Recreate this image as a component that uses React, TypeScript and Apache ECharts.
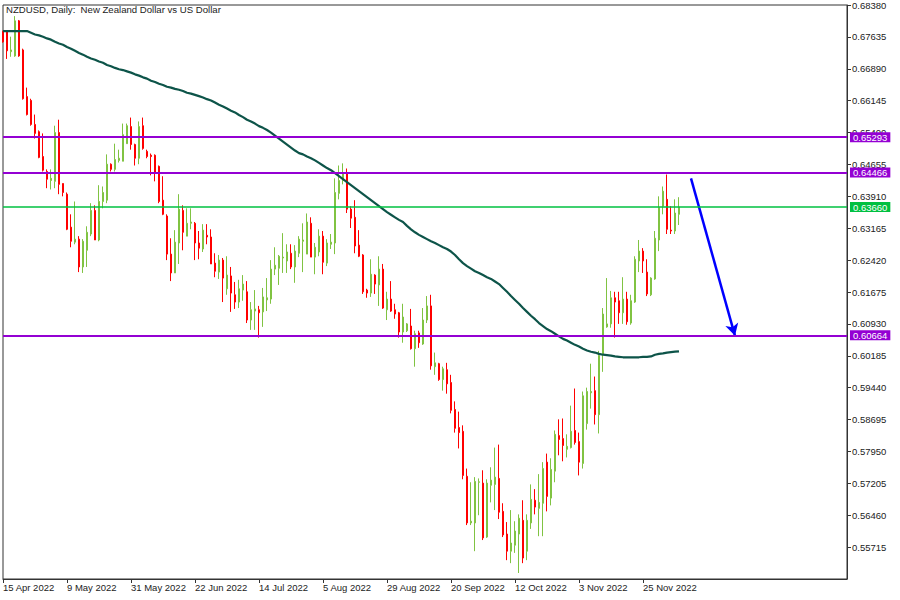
import React, { useEffect, useRef } from "react";
import * as echarts from "echarts";

// ---- data ----
const tickLabels = ["15 Apr 2022", "9 May 2022", "31 May 2022", "22 Jun 2022", "14 Jul 2022", "5 Aug 2022", "29 Aug 2022", "20 Sep 2022", "12 Oct 2022", "3 Nov 2022", "25 Nov 2022"];

const opens = [
  0.6776,0.6775,0.6729,0.6719,0.6801,0.6733,0.6624,0.6615,0.6559,0.6542,
  0.6484,0.6449,0.6428,0.6426,0.6540,0.6421,0.6396,0.6319,0.6284,0.6291,
  0.6226,0.6265,0.6303,0.6358,0.6289,0.6379,0.6382,0.6466,0.6454,0.6475,
  0.6473,0.6514,0.6554,0.6512,0.6480,0.6556,0.6496,0.6487,0.6487,0.6461,
  0.6382,0.6345,0.6256,0.6212,0.6282,0.6358,0.6298,0.6328,0.6328,0.6282,
  0.6268,0.6300,0.6296,0.6235,0.6214,0.6242,0.6175,0.6205,0.6161,0.6144,
  0.6172,0.6168,0.6102,0.6123,0.6126,0.6121,0.6149,0.6151,0.6221,0.6223,
  0.6247,0.6240,0.6258,0.6226,0.6258,0.6286,0.6256,0.6328,0.6249,0.6261,
  0.6298,0.6235,0.6279,0.6282,0.6398,0.6428,0.6445,0.6361,0.6342,0.6277,
  0.6254,0.6172,0.6165,0.6207,0.6184,0.6221,0.6126,0.6151,0.6126,0.6119,
  0.6074,0.6077,0.6088,0.6035,0.6072,0.6046,0.6102,0.6135,0.5993,0.6000,
  0.5963,0.5986,0.5956,0.5893,0.5851,0.5842,0.5737,0.5628,0.5628,0.5723,
  0.5721,0.5595,0.5716,0.5718,0.5732,0.5655,0.5602,0.5562,0.5576,0.5602,
  0.5634,0.5562,0.5628,0.5681,0.5662,0.5674,0.5770,0.5686,0.5749,0.5832,
  0.5825,0.5800,0.5804,0.5844,0.5818,0.5767,0.5860,0.5932,0.5937,0.5881,
  0.6023,0.6086,0.6093,0.6154,0.6147,0.6119,0.6151,0.6095,0.6144,0.6240,
  0.6263,0.6214,0.6161,0.6198,0.6289,0.6368,0.6384,0.6312,0.6310,0.6349,
];

const closes = [
  0.6752,0.6731,0.6733,0.6801,0.6719,0.6619,0.6582,0.6559,0.6538,0.6482,
  0.6452,0.6431,0.6433,0.6540,0.6419,0.6400,0.6314,0.6286,0.6291,0.6226,
  0.6286,0.6307,0.6358,0.6289,0.6379,0.6400,0.6466,0.6454,0.6477,0.6480,
  0.6535,0.6556,0.6512,0.6480,0.6554,0.6503,0.6484,0.6484,0.6445,0.6379,
  0.6349,0.6256,0.6212,0.6284,0.6361,0.6307,0.6328,0.6331,0.6282,0.6270,
  0.6312,0.6296,0.6233,0.6216,0.6242,0.6200,0.6207,0.6165,0.6144,0.6175,
  0.6186,0.6102,0.6126,0.6128,0.6119,0.6156,0.6154,0.6221,0.6230,0.6251,
  0.6249,0.6261,0.6226,0.6263,0.6291,0.6289,0.6331,0.6249,0.6272,0.6298,
  0.6237,0.6282,0.6284,0.6400,0.6428,0.6445,0.6361,0.6340,0.6275,0.6251,
  0.6168,0.6165,0.6209,0.6186,0.6221,0.6130,0.6151,0.6123,0.6116,0.6074,
  0.6109,0.6093,0.6035,0.6070,0.6049,0.6102,0.6135,0.5995,0.6002,0.5963,
  0.5988,0.5953,0.5891,0.5849,0.5839,0.5739,0.5628,0.5632,0.5725,0.5724,
  0.5593,0.5721,0.5728,0.5735,0.5653,0.5600,0.5562,0.5581,0.5609,0.5639,
  0.5546,0.5634,0.5683,0.5665,0.5676,0.5755,0.5690,0.5753,0.5835,0.5823,
  0.5809,0.5807,0.5842,0.5816,0.5770,0.5925,0.5935,0.5935,0.5881,0.6019,
  0.6116,0.6093,0.6154,0.6144,0.6119,0.6151,0.6098,0.6147,0.6244,0.6263,
  0.6240,0.6163,0.6200,0.6293,0.6365,0.6403,0.6314,0.6310,0.6352,0.6366,
];

const lows = [
  0.6750,0.6712,0.6717,0.6717,0.6717,0.6617,0.6580,0.6556,0.6526,0.6480,
  0.6449,0.6410,0.6407,0.6410,0.6396,0.6391,0.6312,0.6272,0.6279,0.6214,
  0.6212,0.6226,0.6298,0.6289,0.6286,0.6363,0.6375,0.6449,0.6449,0.6470,
  0.6473,0.6514,0.6500,0.6463,0.6466,0.6500,0.6480,0.6440,0.6426,0.6375,
  0.6347,0.6242,0.6193,0.6212,0.6233,0.6265,0.6298,0.6314,0.6242,0.6244,
  0.6261,0.6279,0.6233,0.6202,0.6198,0.6144,0.6161,0.6121,0.6128,0.6130,
  0.6147,0.6095,0.6079,0.6079,0.6061,0.6086,0.6123,0.6140,0.6207,0.6184,
  0.6212,0.6212,0.6221,0.6189,0.6249,0.6214,0.6256,0.6249,0.6209,0.6251,
  0.6209,0.6228,0.6268,0.6256,0.6384,0.6419,0.6352,0.6317,0.6258,0.6249,
  0.6163,0.6154,0.6156,0.6163,0.6135,0.6128,0.6102,0.6121,0.6105,0.6061,
  0.6049,0.6074,0.6033,0.5993,0.6037,0.6044,0.6095,0.5986,0.5974,0.5960,
  0.5937,0.5930,0.5884,0.5839,0.5802,0.5730,0.5623,0.5623,0.5562,0.5646,
  0.5588,0.5593,0.5676,0.5658,0.5637,0.5595,0.5541,0.5534,0.5558,0.5511,
  0.5534,0.5541,0.5614,0.5648,0.5597,0.5597,0.5655,0.5669,0.5723,0.5786,
  0.5772,0.5781,0.5802,0.5811,0.5739,0.5755,0.5846,0.5895,0.5858,0.5837,
  0.5981,0.6084,0.6084,0.6061,0.6093,0.6093,0.6091,0.6091,0.6142,0.6214,
  0.6212,0.6158,0.6158,0.6196,0.6263,0.6349,0.6303,0.6303,0.6303,0.6324,
];

const highs = [
  0.6778,0.6778,0.6764,0.6812,0.6803,0.6736,0.6645,0.6619,0.6582,0.6545,
  0.6538,0.6454,0.6454,0.6556,0.6570,0.6421,0.6400,0.6349,0.6379,0.6298,
  0.6291,0.6321,0.6375,0.6370,0.6417,0.6414,0.6489,0.6468,0.6514,0.6500,
  0.6561,0.6561,0.6575,0.6514,0.6566,0.6575,0.6500,0.6491,0.6489,0.6463,
  0.6438,0.6349,0.6293,0.6312,0.6396,0.6370,0.6363,0.6363,0.6331,0.6310,
  0.6326,0.6326,0.6314,0.6258,0.6254,0.6247,0.6251,0.6226,0.6191,0.6196,
  0.6207,0.6193,0.6144,0.6172,0.6135,0.6177,0.6200,0.6242,0.6272,0.6254,
  0.6305,0.6279,0.6279,0.6277,0.6298,0.6328,0.6351,0.6342,0.6282,0.6314,
  0.6310,0.6291,0.6303,0.6433,0.6463,0.6468,0.6456,0.6368,0.6382,0.6312,
  0.6256,0.6175,0.6244,0.6209,0.6251,0.6233,0.6168,0.6193,0.6140,0.6121,
  0.6140,0.6095,0.6128,0.6077,0.6077,0.6130,0.6158,0.6161,0.6026,0.6002,
  0.5993,0.6002,0.5974,0.5912,0.5888,0.5856,0.5755,0.5723,0.5735,0.5732,
  0.5751,0.5730,0.5758,0.5804,0.5811,0.5674,0.5630,0.5658,0.5632,0.5648,
  0.5681,0.5648,0.5718,0.5707,0.5742,0.5770,0.5790,0.5779,0.5844,0.5870,
  0.5872,0.5835,0.5902,0.5942,0.5839,0.5935,0.5944,0.6000,0.5970,0.6030,
  0.6130,0.6200,0.6170,0.6168,0.6168,0.6202,0.6168,0.6161,0.6251,0.6289,
  0.6270,0.6244,0.6202,0.6310,0.6391,0.6414,0.6442,0.6368,0.6384,0.6389,
];

const movingAverage = [
  0.6777,0.6777,0.6777,0.6777,0.6777,0.6777,0.6777,0.6773,0.6769,0.6767,
  0.6764,0.6760,0.6757,0.6752,0.6748,0.6745,0.6740,0.6736,0.6731,0.6726,
  0.6722,0.6717,0.6713,0.6710,0.6706,0.6703,0.6698,0.6695,0.6691,0.6688,
  0.6686,0.6683,0.6680,0.6676,0.6673,0.6669,0.6666,0.6661,0.6658,0.6654,
  0.6651,0.6647,0.6645,0.6642,0.6640,0.6637,0.6633,0.6631,0.6628,0.6625,
  0.6622,0.6618,0.6615,0.6610,0.6605,0.6601,0.6596,0.6591,0.6587,0.6581,
  0.6576,0.6570,0.6566,0.6561,0.6555,0.6551,0.6546,0.6540,0.6533,0.6526,
  0.6519,0.6512,0.6505,0.6498,0.6492,0.6489,0.6484,0.6480,0.6475,0.6469,
  0.6463,0.6457,0.6452,0.6445,0.6438,0.6431,0.6424,0.6417,0.6410,0.6403,
  0.6396,0.6389,0.6382,0.6375,0.6368,0.6361,0.6354,0.6348,0.6342,0.6336,
  0.6331,0.6322,0.6314,0.6307,0.6301,0.6296,0.6291,0.6286,0.6282,0.6277,
  0.6272,0.6268,0.6262,0.6254,0.6244,0.6235,0.6228,0.6222,0.6216,0.6212,
  0.6207,0.6202,0.6198,0.6192,0.6186,0.6177,0.6168,0.6158,0.6149,0.6140,
  0.6130,0.6121,0.6112,0.6104,0.6095,0.6088,0.6081,0.6076,0.6070,0.6064,
  0.6058,0.6054,0.6049,0.6044,0.6040,0.6035,0.6031,0.6028,0.6026,0.6023,
  0.6021,0.6020,0.6019,0.6017,0.6016,0.6015,0.6015,0.6015,0.6015,0.6015,
  0.6016,0.6016,0.6017,0.6021,0.6023,0.6024,0.6026,0.6027,0.6028,0.6029,
];

const resistanceLevels = [0.65293, 0.64466];
const supportLevels = [0.60664];
const lastPrice = 0.6366;
const arrowStart = [172, 0.6433];
const arrowEnd = [183, 0.6065];

const totalSlots = 212; // bars plus empty space to the right
const barsPerLabel = 16;
const yMin = 0.5497;
const yMax = 0.6838;
const yStep = 0.00745;

const PURPLE = "#9400D3";
const GREEN_LINE = "#00C040";
const BULL = "#80C342";
const BEAR = "#FF0000";
const AXIS = "#333333";
const TEXT = "#222222";
const FONT = "Liberation Sans";

export default function App() {
  const ref = useRef<HTMLDivElement>(null);

  useEffect(() => {
    if (!ref.current) return;
    const chart = echarts.init(ref.current, undefined, { renderer: "svg" });

    const categories = Array.from({ length: totalSlots }, (_, i) => String(i));
    const candleData = opens.map((o, i) => [o, closes[i], lows[i], highs[i]]);
    const showTick = (index: number) =>
      index % barsPerLabel === 0 && index / barsPerLabel < tickLabels.length;

    const levelLabel = (bg: string) => ({
      show: true,
      position: "end",
      distance: 3,
      formatter: (p: any) => Number(p.value).toFixed(5),
      backgroundColor: bg,
      color: "#ffffff",
      fontSize: 9.5,
      fontFamily: FONT,
      padding: [1, 3, 0, 3],
      lineHeight: 9,
    });

    const option: any = {
      animation: false,
      backgroundColor: "#ffffff",
      title: {
        text: "NZDUSD, Daily:  New Zealand Dollar vs US Dollar",
        left: 6,
        top: 4,
        padding: 0,
        textStyle: { fontSize: 9.6, fontWeight: "normal", color: TEXT, fontFamily: FONT },
      },
      grid: {
        left: 3,
        top: 3,
        width: 844,
        height: 576,
        show: true,
        borderColor: AXIS,
        borderWidth: 1,
        backgroundColor: "transparent",
      },
      xAxis: {
        type: "category",
        data: categories,
        boundaryGap: false,
        axisLine: { show: true, lineStyle: { color: AXIS, width: 1 } },
        axisTick: { show: true, interval: showTick, length: 4, lineStyle: { color: AXIS } },
        axisLabel: {
          interval: showTick,
          formatter: (_v: string, index: number) => tickLabels[Math.round(index / barsPerLabel)] ?? "",
          align: "left",
          margin: 3,
          fontSize: 9.5,
          color: TEXT,
          fontFamily: FONT,
        },
        splitLine: { show: false },
      },
      yAxis: {
        type: "value",
        position: "right",
        min: yMin,
        max: yMax,
        interval: yStep,
        axisLine: { show: true, lineStyle: { color: AXIS, width: 1 } },
        axisTick: { show: true, length: 4, lineStyle: { color: AXIS } },
        axisLabel: {
          formatter: (v: number) => v.toFixed(5),
          showMinLabel: false,
          showMaxLabel: true,
          margin: 5,
          fontSize: 9.5,
          color: TEXT,
          fontFamily: FONT,
        },
        splitLine: { show: false },
      },
      series: [
        {
          type: "candlestick",
          data: candleData,
          barWidth: 2,
          itemStyle: {
            color: BULL,
            color0: BEAR,
            borderColor: BULL,
            borderColor0: BEAR,
            borderWidth: 1,
          },
          silent: true,
          markLine: {
            silent: true,
            symbol: ["none", "none"],
            precision: 5,
            animation: false,
            z: 10,
            data: [
              ...resistanceLevels.map((v) => ({
                yAxis: v,
                lineStyle: { color: PURPLE, width: 2, type: "solid", opacity: 1 },
                label: levelLabel(PURPLE),
              })),
              ...supportLevels.map((v) => ({
                yAxis: v,
                lineStyle: { color: PURPLE, width: 2, type: "solid", opacity: 1 },
                label: levelLabel(PURPLE),
              })),
              {
                yAxis: lastPrice,
                lineStyle: { color: GREEN_LINE, width: 1.5, type: "solid", opacity: 1 },
                label: levelLabel(GREEN_LINE),
              },
            ],
          },
        },
        {
          type: "line",
          data: movingAverage,
          symbol: "none",
          silent: true,
          lineStyle: { color: "#0D5449", width: 2.2 },
          z: 3,
          markLine: {
            silent: true,
            symbol: ["none", "arrow"],
            symbolSize: [10, 12],
            precision: 5,
            animation: false,
            label: { show: false },
            lineStyle: { color: "#0000FF", width: 2.5, type: "solid", opacity: 1 },
            data: [[{ coord: arrowStart }, { coord: arrowEnd }]],
          },
        },
      ],
    };

    chart.setOption(option);
    return () => chart.dispose();
  }, []);

  return (
    <div
      ref={ref}
      style={{ position: "fixed", left: 0, top: 0, width: 900, height: 600, background: "#fff" }}
    />
  );
}
